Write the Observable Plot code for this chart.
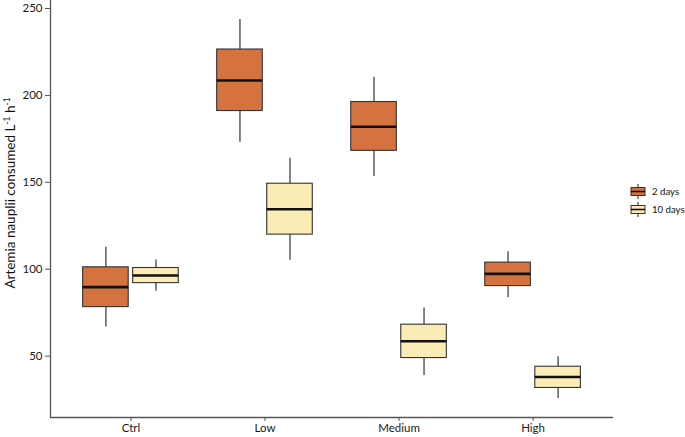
<!DOCTYPE html>
<html>
<head>
<meta charset="utf-8">
<script src="https://cdn.jsdelivr.net/npm/d3@7"></script>
<script src="https://cdn.jsdelivr.net/npm/@observablehq/plot@0.6"></script>
<style>
  html, body { margin: 0; padding: 0; background: #fff; }
  #wrap { position: relative; width: 685px; height: 437px; font-family: Lato, "Open Sans", sans-serif; }
  #legend { position: absolute; left: 630px; top: 182px; font-size: 9.6px; color: #111; white-space: nowrap; }
  #legend .item { display: flex; align-items: center; height: 18px; }
  #legend svg { margin-right: 6px; flex: none; }
</style>
</head>
<body>
<div id="wrap"></div>
<script>
const categories = ["Ctrl", "Low", "Medium", "High"];
const series = ["2 days", "10 days"];
const yTicks = [50, 100, 150, 200, 250];

// 2 days: lower whisker, Q1, median, Q3, upper whisker
const lo2d  = [66.8, 173.1, 153.4, 83.6];
const q1_2d = [78.2, 191.0, 168.1, 90.3];
const med2d = [89.7, 208.6, 182.0, 97.3];
const q3_2d = [101.1, 226.4, 196.2, 103.8];
const hi2d  = [112.6, 243.7, 210.5, 110.1];

// 10 days
const lo10d  = [87.4, 105.2, 38.9, 25.6];
const q1_10d = [92.0, 119.9, 48.9, 31.7];
const med10d = [96.4, 134.5, 58.6, 38.0];
const q3_10d = [100.7, 149.2, 68.1, 43.9];
const hi10d  = [105.3, 163.9, 77.7, 49.6];

const colors = ["#D4733F", "#FBEBB5"];

const stats = [
  [lo2d, q1_2d, med2d, q3_2d, hi2d],
  [lo10d, q1_10d, med10d, q3_10d, hi10d]
];
const rows = [];
categories.forEach((c, i) => {
  series.forEach((s, j) => {
    const [lo, q1, med, q3, hi] = stats[j].map(a => a[i]);
    rows.push({cat: c, series: s, idx: i + 1, j, lo, q1, med, q3, hi});
  });
});

const dodge = 0.1866, half = 0.17;
const xc = d => d.idx + (d.j === 0 ? -dodge : dodge);

const allVals = rows.flatMap(d => [d.lo, d.hi]);
const vmin = d3.min(allVals), vmax = d3.max(allVals);
const pad = (vmax - vmin) * 0.05;
const yDomain = [vmin - pad, vmax + pad];

const plot = Plot.plot({
  width: 685,
  height: 437,
  marginLeft: 50,
  marginRight: 72,
  marginTop: 0,
  marginBottom: 20,
  style: {fontFamily: "Lato, 'Open Sans', sans-serif", fontSize: "11.5px", color: "#1a1a1a", background: "#fff"},
  x: {domain: [0.4, 4.6], axis: null},
  y: {domain: yDomain, axis: null},
  color: {domain: series, range: colors},
  marks: [
    Plot.ruleX(rows, {x: xc, y1: "lo", y2: "q1", stroke: "#333", strokeWidth: 1.2}),
    Plot.ruleX(rows, {x: xc, y1: "q3", y2: "hi", stroke: "#333", strokeWidth: 1.2}),
    Plot.rect(rows, {x1: d => xc(d) - half, x2: d => xc(d) + half, y1: "q1", y2: "q3", fill: "series", stroke: "#333", strokeWidth: 1.1}),
    Plot.ruleY(rows, {y: "med", x1: d => xc(d) - half, x2: d => xc(d) + half, stroke: "#111", strokeWidth: 2.6}),
    Plot.axisY({ticks: yTicks, tickSize: 5, tickPadding: 3, stroke: "#555", label: null, fontSize: 11.5}),
    Plot.axisX({ticks: [1, 2, 3, 4], tickFormat: i => categories[i - 1], tickSize: 4, tickPadding: 2, stroke: "#555", label: null, fontSize: 11.5}),
    Plot.ruleX([0.4], {stroke: "#555", strokeWidth: 1.3}),
    Plot.ruleY([yDomain[0]], {stroke: "#555", strokeWidth: 1.3})
  ]
});

const wrap = document.getElementById("wrap");
wrap.appendChild(plot);

// y-axis title with superscripts
const svg = d3.select(plot);
const t = svg.append("text")
  .attr("transform", "translate(15,193) rotate(-90)")
  .attr("text-anchor", "middle")
  .attr("font-size", 13.5)
  .attr("fill", "#111")
  .attr("font-family", "Lato, 'Open Sans', sans-serif");
t.append("tspan").text("Artemia nauplii consumed L");
t.append("tspan").attr("font-size", 8.5).attr("dy", -5.5).text("-1");
t.append("tspan").attr("dy", 5.5).text(" h");
t.append("tspan").attr("font-size", 8.5).attr("dy", -5.5).text("-1");

// legend
const legend = document.createElement("div");
legend.id = "legend";
series.forEach((s, j) => {
  const item = document.createElement("div");
  item.className = "item";
  const icon = d3.create("svg").attr("width", 16).attr("height", 17);
  icon.append("line").attr("x1", 8).attr("x2", 8).attr("y1", 1).attr("y2", 16).attr("stroke", "#333").attr("stroke-width", 1.1);
  icon.append("rect").attr("x", 1).attr("y", 4.5).attr("width", 14).attr("height", 8).attr("fill", colors[j]).attr("stroke", "#333").attr("stroke-width", 1);
  icon.append("line").attr("x1", 1).attr("x2", 15).attr("y1", 8.5).attr("y2", 8.5).attr("stroke", "#111").attr("stroke-width", 1.6);
  item.appendChild(icon.node());
  const label = document.createElement("span");
  label.textContent = s;
  item.appendChild(label);
  legend.appendChild(item);
});
wrap.appendChild(legend);
</script>
</body>
</html>
